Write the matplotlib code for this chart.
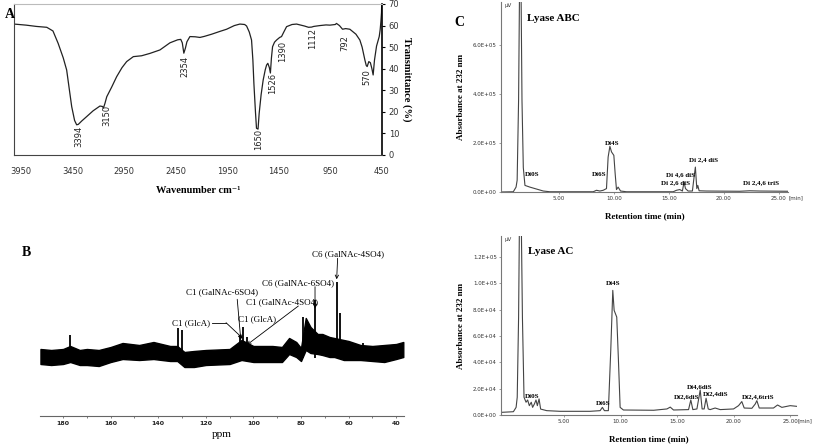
import matplotlib
matplotlib.use("Agg")
import matplotlib.pyplot as plt

# ---- Panel A: FTIR spectrum ----
ir_wn = [4018, 3900, 3800, 3700, 3640, 3590, 3540, 3507, 3480, 3458, 3430, 3410, 3394, 3360,
         3313, 3250, 3184, 3160, 3150, 3135, 3118, 3070, 3022, 2970, 2925, 2860, 2780, 2699,
         2602, 2505, 2430, 2400, 2385, 2370, 2355, 2340, 2311, 2260, 2214, 2170, 2100, 2020,
         1955, 1880, 1826, 1780, 1761, 1735, 1713, 1700, 1690, 1675, 1665, 1650, 1639, 1620,
         1600, 1580, 1567, 1555, 1540, 1530, 1520, 1509, 1490, 1470, 1440, 1422, 1400, 1373,
         1320, 1276, 1200, 1160, 1130, 1110, 1050, 990, 953, 900, 889, 860, 830, 800, 759,
         700, 662, 640, 613, 600, 591, 575, 560, 545, 533, 520, 500, 474, 465, 458, 452, 450]
ir_t = [60.7, 60.2, 59.6, 59.2, 57.5, 51.8, 45, 39.4, 30, 22.4, 16, 14, 14.2, 15.8,
        17.8, 20.5, 22.7, 22.5, 21.8, 24, 27, 31.5, 36.3, 40.5, 43.3, 45.6, 46, 47.1,
        48.7, 52, 53.4, 53.6, 52, 47.2, 49.5, 52.5, 54.9, 54.8, 54.5, 55, 56, 57.3,
        58.3, 60, 60.7, 60.5, 59.8, 57, 53.3, 44, 33, 20, 12.4, 12, 19.3, 28,
        34.8, 39.5, 41.7, 42.5, 40.5, 38, 45, 50.2, 52.3, 53.3, 54.5, 54.9, 57, 59.5,
        60.5, 60.7, 59.8, 59.2, 59.3, 59.6, 60, 60.3, 60.2, 60.5, 61, 60, 58.3, 58.6, 58.3,
        56, 53.3, 50, 44, 41.5, 41, 43.3, 42.8, 40, 37.1, 44, 50.5, 54.9, 58, 61.8, 66, 70]
ir_lbl = ["3394", "3150", "2354", "1650", "1526", "1390", "1112", "792", "570"]
ir_lbl_x = [3387, 3119, 2359, 1648, 1508, 1412, 1121, 807, 591]
ir_lbl_y = [8.5, 18.5, 41, 7, 33.2, 47.9, 54.1, 51.8, 36.3]
ir_xticks = [3950, 3450, 2950, 2450, 1950, 1450, 950, 450]
ir_yticks = [0, 10, 20, 30, 40, 50, 60, 70]

# ---- Panel B: 13C NMR (noise band envelope + sharp lines) ----
nmr_ppm = [189.5, 185, 180, 177, 173, 170, 165, 160, 155, 148, 142, 135, 132, 129, 125, 120, 110,
           105, 100, 92, 88, 85, 82, 80, 78, 76, 73, 71, 68, 66, 62, 60, 55, 50, 45, 40, 37]
nmr_hi = [9, 8, 9, 12, 8, 9, 8, 11, 15, 13, 16, 12, 12, 6, 7, 8, 9,
          18, 12, 12, 11, 20, 16, 10, 40, 31, 24, 24, 21, 20, 18, 17, 13, 12, 13, 14, 16]
nmr_lo = [-6, -7, -6, -4, -7, -7, -8, -4, -1, -2, -1, -3, -3, -9, -9, -7, -6,
          -2, -4, -4, -4, 4, 1, -3, 8, 5, 4, 3, 1, 1, -2, -2, -2, -3, -4, -1, 1]
nmr_line_ppm = [177, 131.8, 130.1, 105.6, 104.2, 102.8, 79, 74.1, 64.8, 63.4, 53.9]
nmr_line_h = [23, 30, 28, 23, 31, 21, 41, 58, 76, 45, 15]
nmr_ticks = [180, 160, 140, 120, 100, 80, 60, 40]

# ---- Panel C: HPLC chromatograms ----
abc_t = [-0.27, 0.85, 1.1, 1.2, 1.33, 1.42, 1.55, 1.64, 1.76, 1.91, 2.36, 2.97, 3.58, 4.18,
         8.12, 8.42, 8.73, 9.03, 9.33, 9.48, 9.64, 9.79, 10.0, 10.12, 10.24, 10.39, 10.61, 11.15,
         15.4, 15.7, 16.0, 16.24, 16.39, 16.52, 16.76, 17.15, 17.3, 17.42, 17.55, 17.64, 17.76,
         18.42, 21.45, 22.36, 23.27, 25.85]
abc_v = [0, 0.01, 0.2, 0.48, 3.75, 8.5, 8.5, 3.75, 1.0, 0.27, 0.2, 0.12, 0.04, 0.01,
         0.01, 0.07, 0.04, 0.07, 0.14, 1.43, 1.87, 1.64, 1.5, 0.75, 0.1, 0.2, 0.04, 0.01,
         0.01, 0.07, 0.1, 0.04, 0.41, 0.14, 0.04, 0.04, 0.61, 1.02, 0.14, 0.27, 0.05,
         0.04, 0.03, 0.05, 0.04, 0.03]  # x 1e5
abc_lbl = ["Di0S", "Di6S", "Di4S", "Di 2,6 diS", "Di 4,6 diS", "Di 2,4 diS", "Di 2,4,6 triS"]
abc_lbl_t = [2.52, 8.66, 9.88, 15.6, 16.06, 18.12, 23.43]
abc_lbl_v = [0.72, 0.72, 2.0, 0.37, 0.72, 1.33, 0.37]

ac_t = [-0.575, 0.52, 0.76, 0.86, 0.98, 1.07, 1.20, 1.32, 1.46, 1.64, 1.78, 1.93, 2.10, 2.22,
        2.38, 2.52, 2.64, 2.79, 2.93, 3.47, 4.65, 7.30, 8.19, 8.39, 8.57, 8.92, 9.13, 9.31,
        9.43, 9.66, 9.80, 9.96, 10.25, 12.93, 14.10, 14.39, 14.68, 16.01, 16.21, 16.39, 16.75,
        17.04, 17.21, 17.39, 17.56, 17.75, 17.92, 18.36, 18.81, 19.99, 20.43, 20.72, 20.93,
        21.61, 21.91, 22.05, 22.26, 23.52, 23.88, 24.26, 25.00, 25.78]
ac_v = [0.2, 0.25, 0.58, 1.35, 7.4, 16, 16, 7.4, 1.35, 0.97, 1.14, 0.71, 0.97, 0.58, 0.84,
        1.14, 0.71, 1.22, 0.45, 0.33, 0.28, 0.28, 0.33, 0.58, 0.33, 0.33, 4.9, 9.47, 7.95,
        7.44, 4.39, 0.58, 0.38, 0.36, 0.46, 0.6, 0.38, 0.41, 1.14, 0.41, 0.46, 1.9,
        0.46, 0.46, 1.27, 0.46, 0.41, 0.53, 0.41, 0.46, 0.71, 1.02, 0.53, 0.51, 0.84,
        1.09, 0.53, 0.53, 0.76, 0.58, 0.71, 0.64]  # x 1e4
ac_lbl = ["Di0S", "Di6S", "Di4S", "Di2,6diS", "Di4,6diS", "Di2,4diS", "Di2,4,6triS"]
ac_lbl_t = [2.14, 8.42, 9.36, 15.86, 17.0, 18.36, 22.19]
ac_lbl_v = [1.42, 0.84, 9.98, 1.42, 2.19, 1.65, 1.42]

W, H = 813, 445
SERIF = "Liberation Serif"


def box(l, t, r, b):
    return [l / W, 1 - b / H, (r - l) / W, (b - t) / H]


fig = plt.figure(figsize=(W / 100, H / 100), dpi=100)

# Panel A
ax_a = fig.add_axes(box(14, 4, 381.7, 155))
ax_a.plot(ir_wn, ir_t, color="#222222", lw=0.9)
ax_a.set_xlim(4018, 450)
ax_a.set_ylim(0, 70)
ax_a.set_xticks(ir_xticks)
ax_a.set_yticks(ir_yticks)
ax_a.yaxis.tick_right()
ax_a.tick_params(axis="x", length=0, pad=9, labelsize=6, labelcolor="#333333")
ax_a.tick_params(axis="y", length=2, pad=3, labelsize=6, labelcolor="#333333")
for s in ["left", "bottom"]:
    ax_a.spines[s].set_color("#444444")
    ax_a.spines[s].set_linewidth(0.8)
ax_a.spines["top"].set_color("#bbbbbb")
ax_a.spines["right"].set_linewidth(1.2)
for s, xx, yy in zip(ir_lbl, ir_lbl_x, ir_lbl_y):
    ax_a.text(xx, yy, s, rotation=90, ha="center", va="center", fontsize=6, color="#222222")
ax_a.set_xlabel("Wavenumber cm\u207b\u00b9", family=[SERIF, "DejaVu Serif"], fontweight="bold",
                fontsize=7.5, labelpad=7)
ax_a.yaxis.set_label_position("right")
ax_a.set_ylabel("Transmittance (%)", family=SERIF, fontweight="bold", fontsize=7.5,
                rotation=270, labelpad=9)
fig.text(5 / W, 1 - 14 / H, "A", family=SERIF, fontweight="bold", fontsize=10, va="center")

# Panel B
ax_b = fig.add_axes(box(40, 240, 404, 416))
ax_b.fill_between(nmr_ppm, nmr_lo, nmr_hi, color="black", lw=1.0)
ax_b.vlines(nmr_line_ppm, 0, nmr_line_h, color="black", lw=1.3)
ax_b.set_xlim(189.7, 36.7)
ax_b.set_ylim(-58, 118)
ax_b.set_xticks(nmr_ticks)
ax_b.set_xticks(range(50, 190, 20), minor=True)
ax_b.set_yticks([])
for s in ["left", "top", "right"]:
    ax_b.spines[s].set_visible(False)
ax_b.spines["bottom"].set_color("#666666")
ax_b.spines["bottom"].set_linewidth(0.8)
ax_b.tick_params(axis="x", which="both", length=1.5, width=0.6, color="#666666", pad=2,
                 labelsize=4.5, labelcolor="#222222")
for lab in ax_b.get_xticklabels():
    lab.set_fontweight("bold")
ax_b.set_xlabel("ppm", family=SERIF, fontsize=8, labelpad=3)
ann = dict(family=SERIF, fontsize=6.5, ha="center", va="center")
arr = dict(arrowstyle="->", lw=0.6, color="black", shrinkA=0, shrinkB=0, mutation_scale=6)
ax_b.text(60.1, 103.7, "C6 (GalNAc-4SO4)", **ann)
ax_b.annotate("", xy=(65.0, 78.7), xytext=(64.6, 99.7), arrowprops=arr)
ax_b.text(81.1, 75.3, "C6 (GalNAc-6SO4)", **ann)
ax_b.annotate("", xy=(74.1, 49.7), xytext=(74.1, 71.3), arrowprops=arr)
ax_b.text(88.1, 56.3, "C1 (GalNAc-4SO4)", **ann)
ax_b.annotate("", xy=(102.8, 13), xytext=(81.1, 52), arrowprops=arr)
ax_b.text(113.3, 66.3, "C1 (GalNAc-6SO4)", **ann)
ax_b.annotate("", xy=(105.3, 18), xytext=(106.8, 58.7), arrowprops=arr)
ax_b.text(98.4, 38.7, "C1 (GlcA)", **ann)
ax_b.text(126.3, 35.3, "C1 (GlcA)", **ann)
ax_b.plot([117.5, 111.5], [35.3, 35.3], color="black", lw=0.6)
ax_b.annotate("", xy=(104.5, 19.7), xytext=(111.5, 35.3), arrowprops=arr)
fig.text(22 / W, 1 - 252 / H, "B", family=SERIF, fontweight="bold", fontsize=10, va="center")


# Panel C
def chrom(ax, t, v, scale, ymax, yticks, labels, lt, lv, title, xlim):
    ax.plot(t, [x * scale for x in v], color="#444444", lw=0.8)
    ax.set_xlim(*xlim)
    ax.set_ylim(0, ymax)
    ax.set_xticks([5, 10, 15, 20, 25])
    ax.set_xticklabels(["5.00", "10.00", "15.00", "20.00", "25.00"])
    ax.set_yticks(yticks)
    ax.set_yticklabels(["{:.1E}".format(y) for y in yticks])
    for s in ["top", "right"]:
        ax.spines[s].set_visible(False)
    ax.spines["left"].set_color("#777777")
    ax.spines["bottom"].set_color("#777777")
    ax.spines["left"].set_linewidth(0.8)
    ax.spines["bottom"].set_linewidth(0.8)
    ax.tick_params(length=1.5, width=0.5, color="#777777", pad=1.5, labelsize=4,
                   labelcolor="#333333")
    for s, xx, yy in zip(labels, lt, lv):
        ax.text(xx, yy * scale, s, family=SERIF, fontweight="bold", fontsize=5,
                ha="center", va="center")
    ax.text(0.09, 0.915, title, transform=ax.transAxes, family=SERIF, fontweight="bold",
            fontsize=8, ha="left", va="center")
    ax.text(0.012, 0.995, "\u00b5V", transform=ax.transAxes, fontsize=4, color="#333333",
            ha="left", va="top")
    ax.text(1.0, -0.02, "[min]", transform=ax.transAxes, fontsize=4, color="#333333",
            ha="left", va="top")
    ax.set_xlabel("Retention time (min)", family=SERIF, fontweight="bold", fontsize=6.5,
                  labelpad=8)
    ax.set_ylabel("Absorbance at 232 nm", family=SERIF, fontweight="bold", fontsize=6.5,
                  labelpad=6)


ax_c1 = fig.add_axes(box(501, 2, 788, 192))
chrom(ax_c1, abc_t, abc_v, 1e5, 7.78e5, [0, 2e5, 4e5, 6e5],
      abc_lbl, abc_lbl_t, abc_lbl_v, "Lyase ABC", (-0.27, 25.85))
ax_c2 = fig.add_axes(box(501, 236, 797, 415))
chrom(ax_c2, ac_t, ac_v, 1e4, 1.36e5, [0, 2e4, 4e4, 6e4, 8e4, 1e5, 1.2e5],
      ac_lbl, ac_lbl_t, ac_lbl_v, "Lyase AC", (-0.575, 25.6))
fig.text(454 / W, 1 - 23 / H, "C", family=SERIF, fontweight="bold", fontsize=10, va="center")

fig.savefig("out.png", dpi=100)
